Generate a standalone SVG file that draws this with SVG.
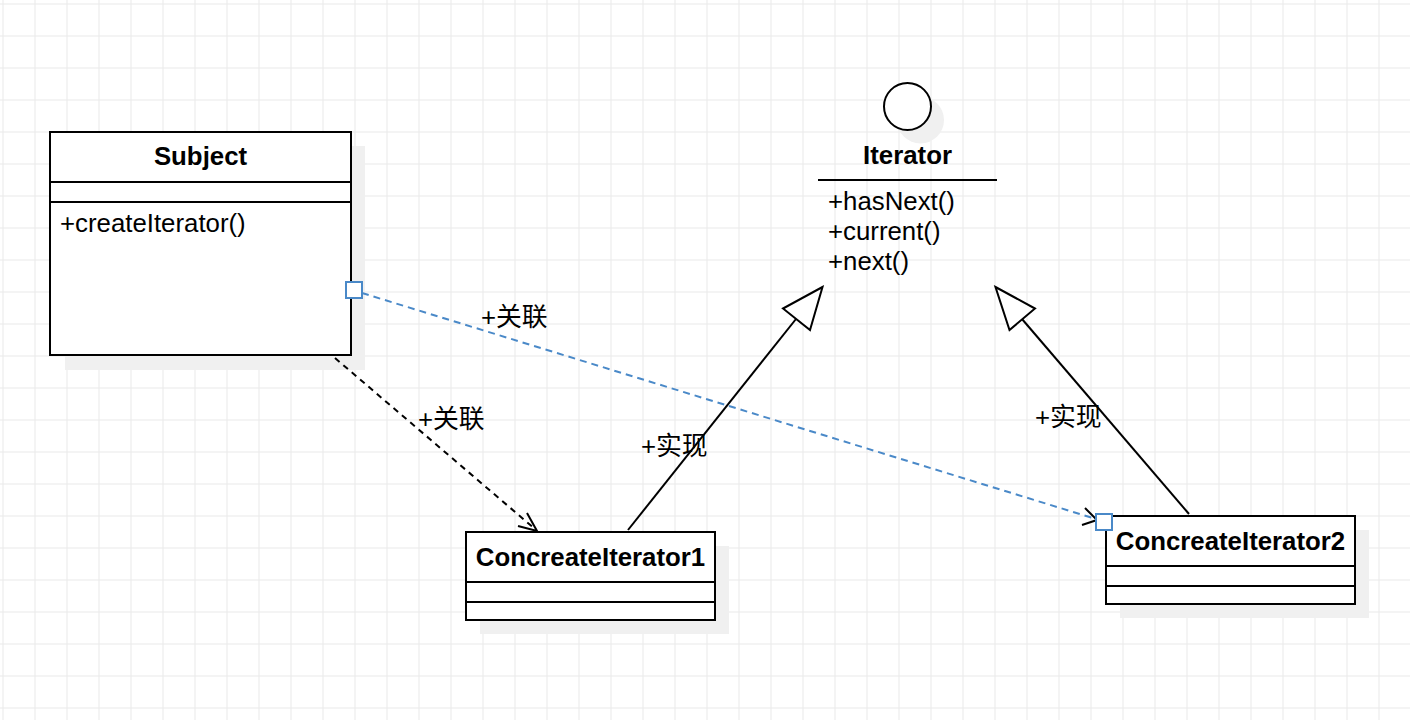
<svg xmlns="http://www.w3.org/2000/svg" width="1410" height="720" viewBox="0 0 1410 720">
<defs>
<pattern id="grid" x="2.5" y="3.5" width="32" height="32" patternUnits="userSpaceOnUse">
<path d="M0.5 0V32M0 0.5H32" fill="none" stroke="#e9e9e9" stroke-width="1"/>
</pattern>
<style>
.box{fill:#fff;stroke:#000;stroke-width:2}
.shadow{fill:#f0f0f0;stroke:none}
.sep{stroke:#000;stroke-width:2;fill:none}
.title{font-family:"Liberation Sans",Arial,sans-serif;font-weight:bold;font-size:25.8px;fill:#000}
.txt{font-family:"Liberation Sans",Arial,"Noto Sans CJK SC",sans-serif;font-size:25.8px;fill:#000}
.line{fill:none;stroke:#000;stroke-width:2}
.dash{fill:none;stroke:#000;stroke-width:2;stroke-dasharray:6 5}
.blue{fill:none;stroke:#4a89c8;stroke-width:2;stroke-dasharray:7 5}
.tri{fill:#fff;stroke:#000;stroke-width:2;stroke-linejoin:miter}
.handle{fill:#fff;stroke:#4a89c8;stroke-width:2}
</style>
</defs>
<rect width="1410" height="720" fill="#fff"/>
<rect width="1410" height="720" fill="url(#grid)"/>

<g id="subject">
<rect class="shadow" x="65" y="146" width="300" height="224"/>
<rect class="box" x="50" y="132" width="301" height="223"/>
<path class="sep" d="M50 182H351M50 202H351"/>
<text class="title" x="200.5" y="165" text-anchor="middle">Subject</text>
<text class="txt" x="60" y="232">+createIterator()</text>
</g>

<g id="iterator">
<circle class="shadow" cx="920.5" cy="120" r="23.5"/>
<circle cx="907.5" cy="106.5" r="23.5" fill="#fff" stroke="#000" stroke-width="2"/>
<text class="title" x="907.5" y="164" text-anchor="middle">Iterator</text>
<path class="sep" d="M818 180H997"/>
<text class="txt" x="828" y="209.5">+hasNext()</text>
<text class="txt" x="828" y="239.5">+current()</text>
<text class="txt" x="828" y="269.5">+next()</text>
</g>

<g id="ci1">
<rect class="shadow" x="480" y="546" width="249" height="88"/>
<rect class="box" x="466" y="532" width="249" height="88"/>
<path class="sep" d="M466 582H715M466 602H715"/>
<text class="title" x="590.5" y="566" text-anchor="middle">ConcreateIterator1</text>
</g>

<g id="ci2">
<rect class="shadow" x="1120" y="530" width="249" height="88"/>
<rect class="box" x="1106" y="516" width="249" height="88"/>
<path class="sep" d="M1106 566H1355M1106 586H1355"/>
<text class="title" x="1230.5" y="550" text-anchor="middle">ConcreateIterator2</text>
</g>

<g id="connectors">
<path class="dash" d="M335 358L535 529"/>
<path class="line" d="M518 526L537 531L527 513"/>
<path class="blue" d="M362 293L1096 519"/>
<path class="line" d="M1085 508L1097 520L1082 525"/>
<path class="line" d="M628 530L796 319"/>
<path class="tri" d="M822.5 287L783 308.5L810 330Z"/>
<path class="line" d="M1189 514L1022 319"/>
<path class="tri" d="M995.5 287L1035 308.5L1009.5 330Z"/>
<text class="txt" x="481" y="326">+关联</text>
<text class="txt" x="418" y="428">+关联</text>
<text class="txt" x="641" y="455">+实现</text>
<text class="txt" x="1035" y="426">+实现</text>
</g>

<g id="handles">
<rect class="handle" x="346" y="282" width="16" height="16"/>
<rect class="handle" x="1096" y="514" width="16" height="16"/>
</g>
</svg>
